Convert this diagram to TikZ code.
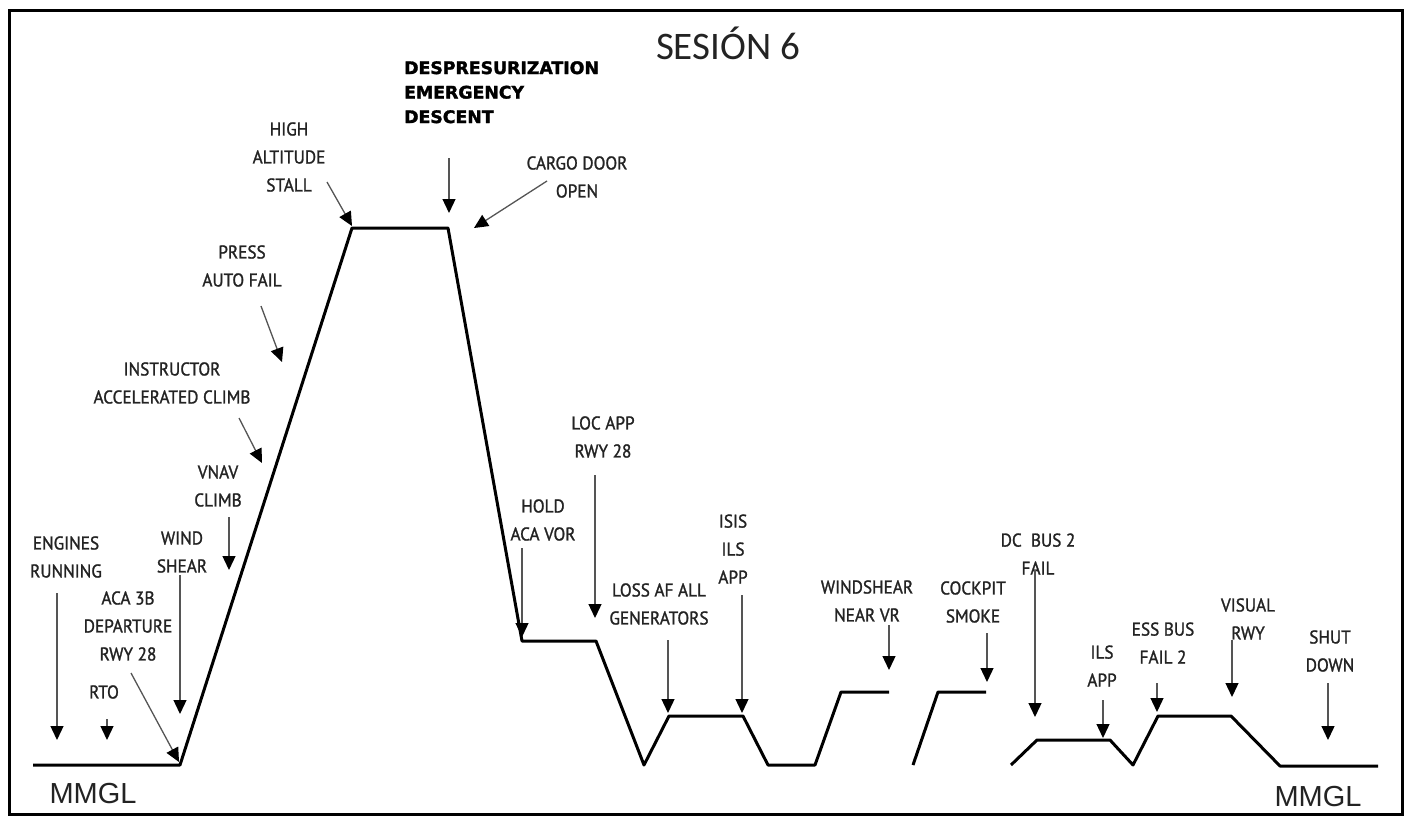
\documentclass[tikz,border=0pt]{standalone}
\usepackage{fontspec}
\setmainfont{PT Sans}
\newfontfamily\lblfont[FakeStretch=0.93,FakeBold=1.3]{PT Sans}
\newfontfamily\titlefont{Carlito}
\newfontfamily\mmglfont{Liberation Sans}
\newfontfamily\heavyfont[FakeBold=1.8]{DejaVu Sans Bold}
\usetikzlibrary{arrows.meta}
\definecolor{ink}{RGB}{35,35,35}
\definecolor{stem}{RGB}{85,85,85}
\begin{document}
\begin{tikzpicture}[x=1pt,y=-1pt,
  lbl/.style={font=\lblfont\fontsize{18.5}{28}\selectfont, text=ink, align=center, inner sep=0pt},
  heavy/.style={font=\heavyfont\fontsize{17.3}{24.5}\selectfont, text=black, align=left, inner sep=0pt},
  evt/.style={draw=stem, line width=1.3pt, -{Triangle[width=13pt,length=14pt,color=black]}},
  profile/.style={draw=black, line width=3pt, line join=round},
  frame/.style={draw=black, line width=3pt}]
\useasboundingbox (0,0) rectangle (1408,817);
\draw[frame] (9,10) rectangle (1402,814);

% flight profile
\draw[profile] (33,765) -- (180,765) -- (352,228) -- (448,228) -- (522,641) -- (596,641)
  -- (644,765) -- (669,716) -- (743,716) -- (768,765) -- (815,765) -- (841,692) -- (889,692);
\draw[profile] (913,765) -- (938,692) -- (986,692);
\draw[profile] (1011,765) -- (1037,740) -- (1110,740) -- (1133,765) -- (1158,716) -- (1231,716)
  -- (1280,766) -- (1378,766);

% title and airports
\node[font=\titlefont\fontsize{39}{39}\selectfont, text=ink, inner sep=0pt] (title) at (728,43) {SESIÓN 6};
\node[font=\mmglfont\fontsize{29}{29}\selectfont, text=ink, inner sep=0pt] (mmglL) at (93,794) {MMGL};
\node[font=\mmglfont\fontsize{29}{29}\selectfont, text=ink, inner sep=0pt] (mmglR) at (1318,797) {MMGL};

% labels
\node[lbl] (engines) at (66,557) {ENGINES\\RUNNING};
\node[lbl] (rto) at (104,692) {RTO};
\node[lbl] (aca) at (128,626) {ACA 3B\\DEPARTURE\\RWY 28};
\node[lbl] (wind) at (182,552) {WIND\\SHEAR};
\node[lbl] (vnav) at (218,486) {VNAV\\CLIMB};
\node[lbl] (instr) at (172,383) {INSTRUCTOR\\ACCELERATED CLIMB};
\node[lbl] (press) at (242,266) {PRESS\\AUTO FAIL};
\node[lbl] (high) at (289,157) {HIGH\\ALTITUDE\\STALL};
\node[heavy, anchor=north west] (desp) at (404,61) {DESPRESURIZATION\\EMERGENCY\\DESCENT};
\node[lbl] (cargo) at (577,177) {CARGO DOOR\\OPEN};
\node[lbl] (hold) at (543,520) {HOLD\\ACA VOR};
\node[lbl] (loc) at (603,437) {LOC APP\\RWY 28};
\node[lbl] (loss) at (659,604) {LOSS AF ALL\\GENERATORS};
\node[lbl] (isis) at (733,549) {ISIS\\ILS\\APP};
\node[lbl] (wsnear) at (867,601) {WINDSHEAR\\NEAR VR};
\node[lbl] (cockpit) at (973,602) {COCKPIT\\SMOKE};
\node[lbl] (dcbus) at (1038,554) {DC~ BUS 2\\FAIL};
\node[lbl] (ilsapp) at (1102,666) {ILS\\APP};
\node[lbl] (ess) at (1163,643) {ESS BUS\\FAIL 2};
\node[lbl] (visual) at (1248,619) {VISUAL\\RWY};
\node[lbl] (shut) at (1330,651) {SHUT\\DOWN};

% arrow ends
\coordinate (enginesA) at (57,593);   \coordinate (enginesB) at (57,740);
\coordinate (rtoA) at (107,719);      \coordinate (rtoB) at (107,740);
\coordinate (acaA) at (131,673);      \coordinate (acaB) at (179,762);
\coordinate (windA) at (180,575);     \coordinate (windB) at (180,714);
\coordinate (vnavA) at (229,517);     \coordinate (vnavB) at (229,570);
\coordinate (instrA) at (239,418);    \coordinate (instrB) at (262,463);
\coordinate (pressA) at (261,306);    \coordinate (pressB) at (282,362);
\coordinate (highA) at (327,182);     \coordinate (highB) at (352,226);
\coordinate (despA) at (449,158);     \coordinate (despB) at (449,213);
\coordinate (cargoA) at (547,181);    \coordinate (cargoB) at (474,228);
\coordinate (holdA) at (522,548);     \coordinate (holdB) at (522,637);
\coordinate (locA) at (595,475);      \coordinate (locB) at (595,618);
\coordinate (lossA) at (668,640);     \coordinate (lossB) at (668,713);
\coordinate (isisA) at (742,595);     \coordinate (isisB) at (742,713);
\coordinate (wsnearA) at (889,625);   \coordinate (wsnearB) at (889,670);
\coordinate (cockpitA) at (987,633);  \coordinate (cockpitB) at (987,682);
\coordinate (dcbusA) at (1035,570);   \coordinate (dcbusB) at (1035,717);
\coordinate (ilsappA) at (1103,700);  \coordinate (ilsappB) at (1103,738);
\coordinate (essA) at (1157,683);     \coordinate (essB) at (1157,712);
\coordinate (visualA) at (1232,640);  \coordinate (visualB) at (1232,697);
\coordinate (shutA) at (1328,683);    \coordinate (shutB) at (1328,740);

\foreach \n in {engines,rto,aca,wind,vnav,instr,press,high,desp,cargo,hold,loc,loss,isis,wsnear,cockpit,dcbus,ilsapp,ess,visual,shut}
  \draw[evt] (\n A) -- (\n B);
\end{tikzpicture}
\end{document}
